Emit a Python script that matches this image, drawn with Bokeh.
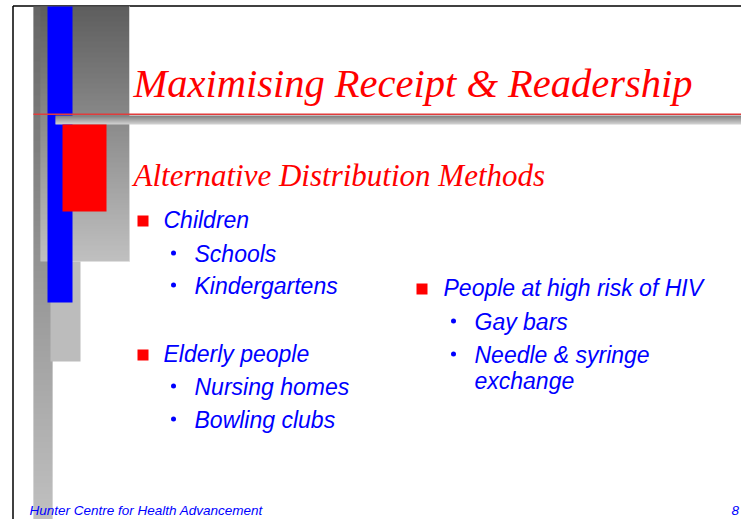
import numpy as np
from bokeh.plotting import figure
from bokeh.models import Range1d
from bokeh.core.properties import value
from bokeh.embed import file_html
from bokeh.resources import INLINE

# ---- slide content ----
title = "Maximising Receipt & Readership"
subtitle = "Alternative Distribution Methods"
left_heads = ["Children", "Elderly people"]
left_items = [["Schools", "Kindergartens"], ["Nursing homes", "Bowling clubs"]]
right_heads = ["People at high risk of HIV"]
right_items = [["Gay bars", "Needle & syringe", "exchange"]]
left_dots = [[True, True], [True, True]]
right_dots = [[True, True, False]]
footer = "Hunter Centre for Health Advancement"
page_no = "8"

W, H = 741, 519
p = figure(width=W, height=H, x_range=Range1d(0, W), y_range=Range1d(H, 0),
           output_backend="svg", toolbar_location=None, min_border=0)
p.axis.visible = False
p.grid.visible = False
p.outline_line_color = None
p.background_fill_color = "white"
p.border_fill_color = "white"


def grad_rect(x0, x1, y0, y1, c0, c1, n=None):
    n = n or max(2, int(y1 - y0))
    edges = np.linspace(y0, y1, n + 1)
    cols = []
    for i in range(n):
        t = i / max(1, n - 1)
        v = int(round(c0 + (c1 - c0) * t))
        cols.append("#%02x%02x%02x" % (v, v, v))
    bottoms = [min(y1, e + 0.6) for e in edges[1:]]  # slight overlap: no seams
    p.quad(left=[x0] * n, right=[x1] * n, top=list(edges[:-1]), bottom=bottoms,
           fill_color=cols, line_color=None)


# frame
p.line([12.5, 12.5], [5.5, H], line_color="black", line_width=1.5)
p.line([12.5, W], [5.5, 5.5], line_color="black", line_width=1.5)

# decorative gray blocks
grad_rect(33, 52, 6, H, 0x66, 0xc0)
grad_rect(40, 129, 6, 261, 0x5e, 0xc0)
p.quad(left=[128.5], right=[129.5], top=[6], bottom=[261], fill_color="#d8d8d8", line_color=None)
p.quad(left=[50], right=[80], top=[261], bottom=[361], fill_color="#bcbcbc", line_color=None)
# blue bar
p.quad(left=[47], right=[72], top=[6], bottom=[302], fill_color="#0000ff", line_color=None)
# horizontal rule
grad_rect(55, W, 115, 124, 0x80, 0xd0, n=9)
p.line([33, W], [113.8, 113.8], line_color="#e03c3c", line_width=1.6)
# red block
p.quad(left=[62], right=[106], top=[124], bottom=[211], fill_color="#ff0000", line_color=None)

serif = value("Liberation Serif")
sans = value("Liberation Sans")
SERIF_OFF = 0.3375   # baseline distance below the middle of the em box
SANS_OFF = 0.347


def txt(xs, bases, texts, font, size, color, off):
    ys = [b - off * size for b in bases]
    p.text(x=xs, y=ys, text=texts, text_font=font, text_font_style="italic",
           text_font_size=f"{size}px", text_color=color, text_baseline="middle")


txt([133], [97], [title], serif, 40.5, "#ff0000", SERIF_OFF)
txt([133], [185], [subtitle], serif, 31, "#ff0000", SERIF_OFF)

# bullets
hx, hy, hs = [], [], []
sqx, sqy = [], []
ix, iy, it = [], [], []
dx, dy = [], []


def add_group(heads, items, dots, head_x, item_x, dot_x, bases, sq_left, steps):
    for h, its, ds, b, st in zip(heads, items, dots, bases, steps):
        hx.append(head_x); hy.append(b); hs.append(h)
        sqx.append(sq_left); sqy.append(b)
        y = b
        for t, d, s in zip(its, ds, st):
            y = y + s
            ix.append(item_x); iy.append(y); it.append(t)
            if d:
                dx.append(dot_x); dy.append(y - 8.5)


add_group(left_heads, left_items, left_dots, 163, 194, 173, [227, 361], 137,
          [[34, 32], [33, 33]])
add_group(right_heads, right_items, right_dots, 443, 474, 453, [295], 416,
          [[34, 33, 26]])

BS = 23
txt(hx, hy, hs, sans, BS, "#0000ff", SANS_OFF)
txt(ix, iy, it, sans, BS, "#0000ff", SANS_OFF)
p.quad(left=sqx, right=[v + 11 for v in sqx], top=[v - 12 for v in sqy], bottom=[v - 1 for v in sqy],
       fill_color="#ff0000", line_color=None)
p.scatter(x=dx, y=dy, size=5, marker="circle", fill_color="#0000ff", line_color=None)

txt([29], [515], [footer], sans, 13.5, "#0000ff", SANS_OFF)
txt([731], [515], [page_no], sans, 13.5, "#0000ff", SANS_OFF)

open("out.html", "w").write(file_html(p, INLINE))
